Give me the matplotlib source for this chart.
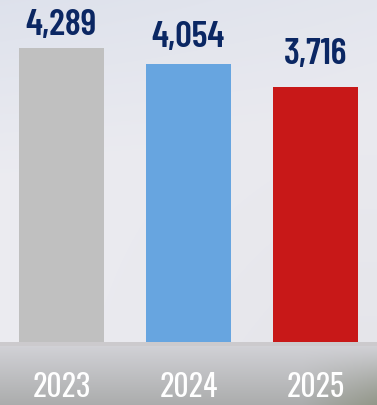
import matplotlib.pyplot as plt
import numpy as np

years = ["2023", "2024", "2025"]
totals = [4289, 4054, 3716]
bar_colors = ["#c0c0c0", "#67a5e0", "#c81818"]
value_color = "#0b2763"
label_gaps = [13, 17, 23]  # px between bar top and its number

W, H = 377, 405
BASE = 342  # pixel row of the bar baseline

fig = plt.figure(figsize=(W / 100, H / 100), dpi=100)

# backdrop: soft lavender wash above, grey floor band below
bg = fig.add_axes([0, 0, 1, 1])
yy, xx = np.mgrid[0:H, 0:W] / np.array([H, W]).reshape(2, 1, 1)
top = np.array([0.87, 0.885, 0.925])
mid = np.array([0.925, 0.925, 0.945])
img = top + (mid - top) * np.clip(yy * 2.2 + xx * 0.4, 0, 1)[..., None]
img = img - 0.035 * (yy[..., None] * (BASE / H)) * np.clip(xx[..., None] * 1.2, 0, 1)
band_t = np.clip((yy * H - BASE) / (H - BASE), 0, 1)[..., None]
floor_top = np.array([0.83, 0.83, 0.85])
floor_bot = np.array([0.67, 0.675, 0.675])
floor = floor_top + (floor_bot - floor_top) * band_t
green = np.array([0.55, 0.57, 0.50])
corner = (np.clip((xx - 0.8) / 0.2, 0, 1) * band_t[..., 0] ** 1.5)[..., None]
floor = floor + (green - floor) * corner * 0.8
in_floor = (yy * H >= BASE)[..., None]
img = np.where(in_floor, floor, img)
line = ((yy * H >= BASE) & (yy * H < BASE + 4))[..., None]
img = np.where(line, np.array([0.80, 0.795, 0.805]), img)
bg.imshow(np.clip(img, 0, 1), extent=(0, W, H, 0), aspect="auto", interpolation="bilinear")
bg.set_xlim(0, W)
bg.set_ylim(H, 0)
bg.axis("off")

# bar axes: baseline sits on the floor band, top edge of figure
ax = fig.add_axes([0, (H - BASE) / H, 1, BASE / H])
ax.patch.set_alpha(0)
x = np.arange(len(years))
ax.bar(x, totals, width=85 / 127, color=bar_colors, zorder=2)
ax.set_xlim(-61.5 / 127, (W - 61.5) / 127)
ax.set_ylim(0, totals[0] * BASE / 294)
ax.axis("off")

for xi, v, gap in zip(x, totals, label_gaps):
    ax.annotate(f"{v:,}", xy=(xi, v), xytext=(0, gap * 0.72), textcoords="offset points",
                ha="center", va="baseline", fontsize=26.5, fontweight=600,
                family=["Barlow Condensed", "DejaVu Sans"], color=value_color)

for xi, yr in zip(x, years):
    ax.annotate(yr, xy=(xi, 0), xytext=(0, -45.5 * 0.72), textcoords="offset points",
                ha="center", va="center", fontsize=21.5,
                family=["Oswald", "DejaVu Sans"], color="white",
                annotation_clip=False)

fig.savefig("out.png", dpi=100)
